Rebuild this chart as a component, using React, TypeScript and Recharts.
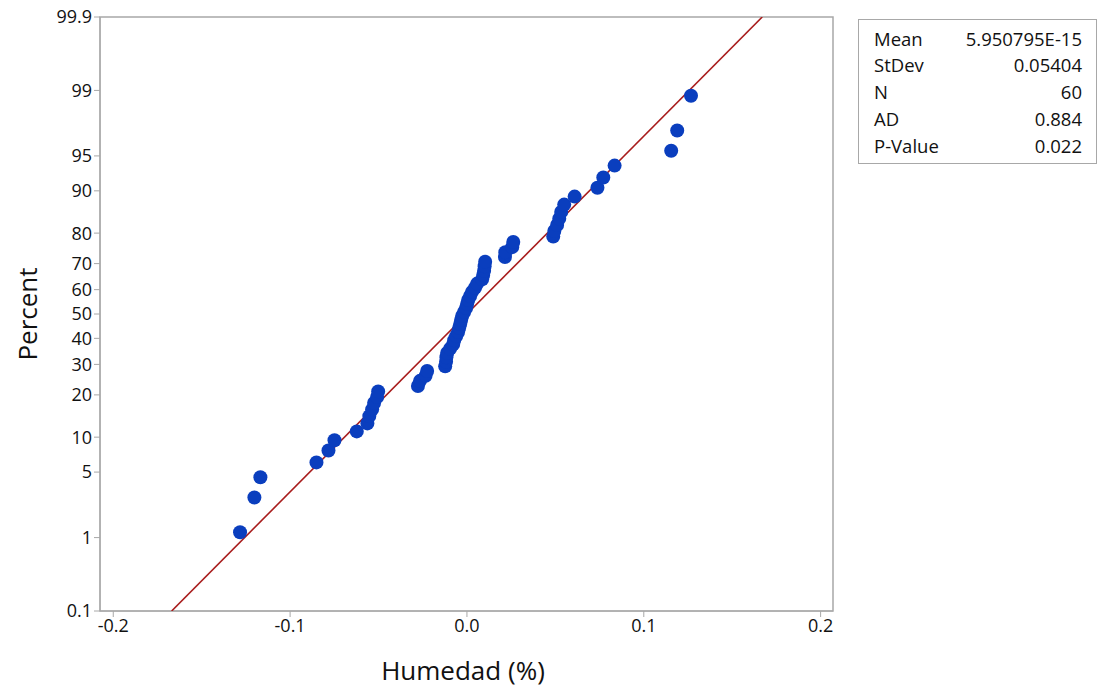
import React from 'react';
import { ComposedChart, Scatter, XAxis, YAxis, ReferenceArea } from 'recharts';

// Plotting positions (percent) for the 60 ordered observations
const percentPositions = [
  1.159, 2.815, 4.470, 6.126, 7.781, 9.437, 11.093, 12.748, 14.404, 16.060,
  17.715, 19.371, 21.026, 22.682, 24.338, 25.993, 27.649, 29.305, 30.960, 32.616,
  34.272, 35.927, 37.583, 39.238, 40.894, 42.550, 44.205, 45.861, 47.517, 49.172,
  50.828, 52.483, 54.139, 55.795, 57.450, 59.106, 60.762, 62.417, 64.073, 65.728,
  67.384, 69.040, 70.695, 72.351, 74.007, 75.662, 77.318, 78.974, 80.629, 82.285,
  83.940, 85.596, 87.252, 88.907, 90.563, 92.219, 93.874, 95.530, 97.185, 98.841,
];

// Humedad (%) residual values
const humedad = [
  -0.1283, -0.1202, -0.1168, -0.0851, -0.0783, -0.0749, -0.0623, -0.0563, -0.0552, -0.0536,
  -0.0525, -0.0508, -0.0502, -0.0277, -0.0265, -0.0234, -0.0225, -0.0123, -0.0118, -0.0116,
  -0.0112, -0.0095, -0.0078, -0.0072, -0.0061, -0.0050, -0.0044, -0.0038, -0.0033, -0.0027,
  -0.0016, -0.0005, 0.0001, 0.0007, 0.0018, 0.0029, 0.0046, 0.0058, 0.0086, 0.0092,
  0.0097, 0.0100, 0.0103, 0.0215, 0.0217, 0.0256, 0.0262, 0.0488, 0.0494, 0.0510,
  0.0522, 0.0533, 0.0550, 0.0609, 0.0738, 0.0771, 0.0835, 0.1155, 0.1189, 0.1267,
];

const yTickPercents = [0.1, 1, 5, 10, 20, 30, 40, 50, 60, 70, 80, 90, 95, 99, 99.9];
const xTicks = [-0.2, -0.1, 0, 0.1, 0.2];
const xDomain = [-0.2075, 0.207];

const statLabels = ['Mean', 'StDev', 'N', 'AD', 'P-Value'];
const statValues = ['5.950795E-15', '0.05404', '60', '0.884', '0.022'];

const fitMean = 5.950795e-15;
const fitSd = 0.05404;
const fitPercents = [0.1, 99.9];

// Inverse standard normal CDF (Acklam)
function probit(p: number): number {
  const a = [-3.969683028665376e1, 2.209460984245205e2, -2.759285104469687e2, 1.38357751867269e2, -3.066479806614716e1, 2.506628277459239];
  const b = [-5.447609879822406e1, 1.615858368580409e2, -1.556989798598866e2, 6.680131188771972e1, -1.328068155288572e1];
  const c = [-7.784894002430293e-3, -3.223964580411365e-1, -2.400758277161838, -2.549732539343734, 4.374664141464968, 2.938163982698783];
  const d = [7.784695709041462e-3, 3.224671290700398e-1, 2.445134137142996, 3.754408661907416];
  const plow = 0.02425;
  const phigh = 1 - plow;
  let q: number, r: number;
  if (p < plow) {
    q = Math.sqrt(-2 * Math.log(p));
    return (((((c[0] * q + c[1]) * q + c[2]) * q + c[3]) * q + c[4]) * q + c[5]) /
      ((((d[0] * q + d[1]) * q + d[2]) * q + d[3]) * q + 1);
  }
  if (p <= phigh) {
    q = p - 0.5;
    r = q * q;
    return (((((a[0] * r + a[1]) * r + a[2]) * r + a[3]) * r + a[4]) * r + a[5]) * q /
      (((((b[0] * r + b[1]) * r + b[2]) * r + b[3]) * r + b[4]) * r + 1);
  }
  q = Math.sqrt(-2 * Math.log(1 - p));
  return -(((((c[0] * q + c[1]) * q + c[2]) * q + c[3]) * q + c[4]) * q + c[5]) /
    ((((d[0] * q + d[1]) * q + d[2]) * q + d[3]) * q + 1);
}

const points = humedad.map((x, i) => ({ x, z: probit(percentPositions[i] / 100) }));
const fitData = fitPercents.map((p) => {
  const z = probit(p / 100);
  return { x: fitMean + fitSd * z, z };
});
const yTicks = yTickPercents.map((p) => probit(p / 100));
const zMin = yTicks[0];
const zMax = yTicks[yTicks.length - 1];

const yTickLabel = (v: number) => {
  let best = 0;
  yTicks.forEach((t, i) => {
    if (Math.abs(t - v) < Math.abs(yTicks[best] - v)) best = i;
  });
  return String(yTickPercents[best]);
};

const FONT = '"Open Sans", "Noto Sans", sans-serif';
const AXIS = '#A8A8A8';
const DOT = '#0A3EBE';
const LINE = '#A81C1C';

const Dot = (props: any) => {
  const { cx, cy } = props;
  if (cx == null || cy == null) return <g />;
  return <circle cx={cx} cy={cy} r={7} fill={DOT} />;
};

export default function App() {
  return (
    <div style={{ position: 'absolute', left: 0, top: 0, width: 1102, height: 689, background: '#fff', fontFamily: FONT }}>
      <ComposedChart
        width={1102}
        height={689}
        margin={{ top: 17, right: 269, bottom: 28, left: 10 }}
      >
        <XAxis
          type="number"
          dataKey="x"
          domain={xDomain}
          ticks={xTicks}
          interval={0}
          allowDataOverflow
          height={50}
          tickFormatter={(v: number) => v.toFixed(1)}
          stroke={AXIS}
          tickSize={6}
          tick={{ fill: '#111', fontSize: 18, fontFamily: FONT }}
          tickLine={{ stroke: AXIS }}
          axisLine={{ stroke: AXIS }}
        />
        <YAxis
          type="number"
          dataKey="z"
          domain={[zMin, zMax]}
          ticks={yTicks}
          interval={0}
          allowDataOverflow
          width={90}
          tickFormatter={yTickLabel}
          stroke={AXIS}
          tickSize={6}
          tick={{ fill: '#111', fontSize: 18, fontFamily: FONT }}
          tickLine={{ stroke: AXIS }}
          axisLine={{ stroke: AXIS }}
        />
        <ReferenceArea
          x1={xDomain[0]}
          x2={xDomain[1]}
          y1={zMin}
          y2={zMax}
          fill="none"
          stroke={AXIS}
          strokeWidth={1.5}
          ifOverflow="extendDomain"
        />
        <Scatter
          data={fitData}
          dataKey="z"
          line={{ stroke: LINE, strokeWidth: 1.6 }}
          shape={() => <g />}
          isAnimationActive={false}
        />
        <Scatter data={points} dataKey="z" shape={Dot} isAnimationActive={false} />
      </ComposedChart>

      <div style={{ position: 'absolute', left: 463, top: 670, transform: 'translate(-50%, -50%)', fontSize: 26, color: '#111', whiteSpace: 'nowrap' }}>
        Humedad (%)
      </div>
      <div style={{ position: 'absolute', left: 27, top: 314, transform: 'translate(-50%, -50%) rotate(-90deg)', fontSize: 26, color: '#111', whiteSpace: 'nowrap' }}>
        Percent
      </div>

      <div style={{ position: 'absolute', left: 858, top: 19, width: 239, height: 145, border: `1.5px solid ${AXIS}`, boxSizing: 'border-box' }}>
        {statLabels.map((lab, i) => (
          <div key={lab} style={{ position: 'absolute', left: 15, right: 14, top: 5 + i * 26.8, height: 26, display: 'flex', justifyContent: 'space-between', alignItems: 'center', fontSize: 18.5, color: '#111' }}>
            <span>{lab}</span>
            <span>{statValues[i]}</span>
          </div>
        ))}
      </div>
    </div>
  );
}
